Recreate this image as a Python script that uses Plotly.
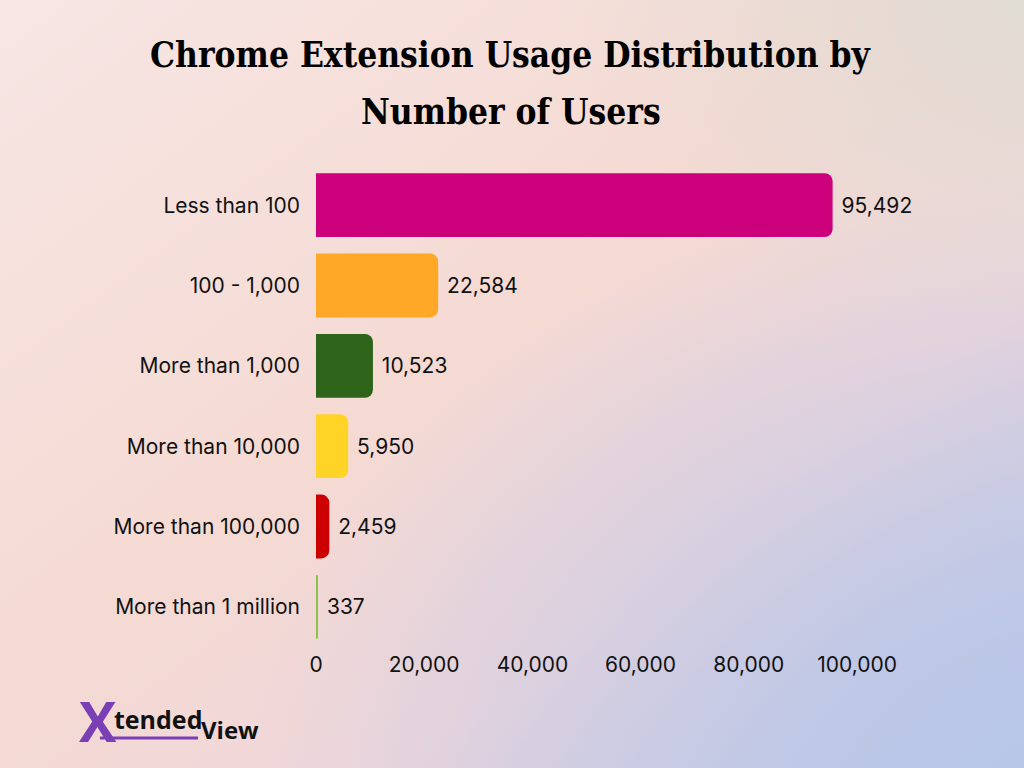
import base64
import plotly.graph_objects as go

categories = ["Less than 100", "100 - 1,000", "More than 1,000", "More than 10,000",
              "More than 100,000", "More than 1 million"]
users = [95492, 22584, 10523, 5950, 2459, 337]
bar_colors = ["#CC007A", "#FFA726", "#2E6419", "#FFD426", "#CC0000", "#8BC34A"]
x_ticks = [0, 20000, 40000, 60000, 80000, 100000]
title_lines = ["Chrome Extension Usage Distribution by", "Number of Users"]

W, H = 1024, 768
L, R, T, B = 316, 167, 165, 121
PW, PH = W - L - R, H - T - B


def px_to_paper(x, y):
    return (x - L) / PW, (H - B - y) / PH


svg = f"""<svg xmlns='http://www.w3.org/2000/svg' width='{W}' height='{H}' viewBox='0 0 {W} {H}'>
<defs>
<linearGradient id='g' x1='0' y1='0' x2='1' y2='1'>
<stop offset='0' stop-color='#f7e6e4'/>
<stop offset='0.45' stop-color='#f5dad3'/>
<stop offset='0.7' stop-color='#efd6da'/>
<stop offset='1' stop-color='#bcc7e6'/>
</linearGradient>
<radialGradient id='b' cx='1' cy='1' r='0.75'>
<stop offset='0' stop-color='#b8c6e8' stop-opacity='1'/>
<stop offset='1' stop-color='#b8c6e8' stop-opacity='0'/>
</radialGradient>
<radialGradient id='t' cx='1' cy='0' r='0.45'>
<stop offset='0' stop-color='#e0dbd3' stop-opacity='1'/>
<stop offset='1' stop-color='#e0dbd3' stop-opacity='0'/>
</radialGradient>
</defs>
<rect width='{W}' height='{H}' fill='url(#g)'/>
<rect width='{W}' height='{H}' fill='url(#b)'/>
<rect width='{W}' height='{H}' fill='url(#t)'/>
</svg>"""
bg_src = "data:image/svg+xml;base64," + base64.b64encode(svg.encode()).decode()

FONT = "Inter"
FS = 21

fig = go.Figure()
fig.add_trace(go.Bar(
    y=categories, x=users, orientation="h",
    marker=dict(color=bar_colors, line=dict(width=0)),
    text=users, texttemplate=" %{x:,}", textposition="outside",
    textfont=dict(family=FONT, size=FS, color="#111111"),
    cliponaxis=False, hoverinfo="skip",
))

annotations = []
for i, line in enumerate(title_lines):
    ax, ay = px_to_paper(511, 55 + i * 57)
    annotations.append(dict(
        text=f"<b>{line}</b>", x=ax, y=ay, xref="paper", yref="paper",
        xanchor="center", yanchor="middle", showarrow=False,
        font=dict(family="DejaVu Serif Condensed, DejaVu Serif, serif", size=35, color="#000000"),
    ))

# logo
lx, ly = px_to_paper(98, 720)
annotations.append(dict(text="<b>X</b>", x=lx, y=ly, xref="paper", yref="paper",
                        xanchor="center", yanchor="middle", showarrow=False,
                        font=dict(family="Open Sans", size=56, color="#7B3FB5")))
lx, ly = px_to_paper(112, 719)
annotations.append(dict(text="<b>tended</b>", x=lx, y=ly, xref="paper", yref="paper",
                        xanchor="left", yanchor="middle", showarrow=False,
                        font=dict(family="Open Sans", size=25, color="#111111")))
lx, ly = px_to_paper(199, 729)
annotations.append(dict(text="<b>View</b>", x=lx, y=ly, xref="paper", yref="paper",
                        xanchor="left", yanchor="middle", showarrow=False,
                        font=dict(family="Open Sans", size=24, color="#111111")))

ux0, uy = px_to_paper(100, 738)
ux1, _ = px_to_paper(198, 738)

fig.update_layout(
    width=W, height=H, autosize=False,
    margin=dict(l=L, r=R, t=T, b=B, pad=0),
    paper_bgcolor="rgba(0,0,0,0)", plot_bgcolor="rgba(0,0,0,0)",
    showlegend=False,
    bargap=0.205,
    barcornerradius=8,
    font=dict(family=FONT, size=FS, color="#111111"),
    xaxis=dict(range=[0, 100000], tickvals=x_ticks, tickformat=",", showgrid=False,
               zeroline=False, showline=False, ticks="", ticklabelstandoff=3,
               tickfont=dict(family=FONT, size=FS, color="#111111"), fixedrange=True),
    yaxis=dict(categoryorder="array", categoryarray=categories, autorange="reversed",
               showgrid=False, zeroline=False, showline=False, ticks="",
               ticklabelstandoff=15,
               tickfont=dict(family=FONT, size=FS, color="#111111"), fixedrange=True),
    annotations=annotations,
    shapes=[dict(type="line", xref="paper", yref="paper", x0=ux0, x1=ux1, y0=uy, y1=uy,
                 line=dict(color="#7B3FB5", width=3))],
    images=[dict(source=bg_src, xref="paper", yref="paper",
                 x=-L / PW, y=1 + T / PH, sizex=W / PW, sizey=H / PH,
                 sizing="stretch", layer="below", xanchor="left", yanchor="top")],
)

fig.write_html("out.html")
